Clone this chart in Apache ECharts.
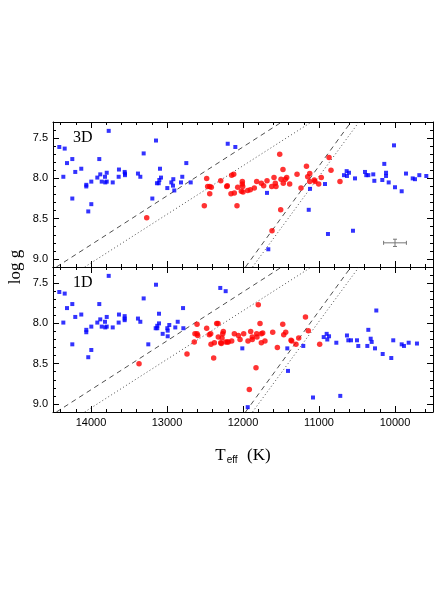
<!DOCTYPE html>
<html>
<head>
<meta charset="utf-8">
<script src="https://cdn.jsdelivr.net/npm/echarts@6/dist/echarts.min.js"></script>
<style>
  html, body { margin: 0; padding: 0; background: #fff; }
  #chart { width: 443px; height: 590px; }
</style>
</head>
<body>
<div id="chart"></div>
<script>
// tick values
const xMajor = [10000, 11000, 12000, 13000, 14000];
const xMinor = [9600, 9800, 10200, 10400, 10600, 10800, 11200, 11400, 11600, 11800,
  12200, 12400, 12600, 12800, 13200, 13400, 13600, 13800, 14200, 14400];
const yMajor = [7.5, 8.0, 8.5, 9.0];
const yMinor = [7.4, 7.6, 7.7, 7.8, 7.9, 8.1, 8.2, 8.3, 8.4, 8.6, 8.7, 8.8, 8.9, 9.1];

// 3D panel [Teff, log g]
const blue3D = [
  [14417,7.61],[14346,7.63],[14364,7.98],[14316,7.81],[14246,7.76],[14246,8.25],[14207,7.92],
  [14128,7.88],[14062,8.08],[14062,8.10],[14036,8.41],[13996,8.04],[13996,8.32],[13917,7.99],
  [13891,7.76],[13878,7.95],[13859,8.04],[13816,7.98],[13812,8.05],[13793,7.93],[13793,8.04],
  [13767,7.41],[13714,8.05],[13632,7.89],[13636,7.98],[13557,7.92],[13553,7.94],[13553,7.96],
  [13382,7.94],[13351,7.98],[13307,7.69],[13193,8.25],[13145,7.53],[13132,8.06],[13109,8.06],
  [13101,8.02],[13092,7.88],[13079,7.99],[12996,8.12],[12943,8.05],[12917,8.01],[12921,8.09],
  [12904,8.15],[12746,7.81],[12799,7.98],[12816,8.05],[12688,8.05],[12201,7.57],[12101,7.61],
  [11684,8.18],[11667,8.88],[11118,8.13],[11135,8.39],[10921,8.07],[10882,8.69],[10671,7.96],
  [10636,7.91],[10632,7.97],[10605,7.93],[10526,8.00],[10553,8.65],[10395,7.92],[10378,7.96],
  [10351,7.96],[10286,7.95],[10272,8.03],[10167,8.02],[10141,7.82],[10118,7.93],[10118,7.97],
  [10083,8.05],[10013,7.59],[10000,8.11],[9912,8.16],[9855,7.94],[9767,8.00],[9737,8.01],
  [9680,7.96],[9588,7.97]
];
const red3D = [
  [13267,8.49],[12509,8.34],[12478,8.00],[12465,8.10],[12438,8.10],[12438,8.19],[12417,8.11],
  [12293,8.03],[12214,8.10],[12207,8.09],[12158,8.19],[12149,7.96],[12122,7.95],[12114,8.18],
  [12079,8.34],[12070,8.11],[12022,8.16],[12009,8.04],[12009,8.07],[12004,8.10],[12000,8.17],
  [11938,8.15],[11904,8.14],[11851,8.12],[11820,8.04],[11759,8.06],[11728,8.09],[11684,8.03],
  [11622,8.10],[11592,7.99],[11575,8.06],[11566,8.10],[11517,7.70],[11504,8.39],[11500,8.01],
  [11474,7.89],[11470,8.06],[11443,8.01],[11425,7.99],[11386,8.07],[11618,8.65],[11289,7.95],
  [11237,8.12],[11165,7.85],[11122,7.94],[11149,7.98],[11122,8.04],[11062,8.02],[11053,8.04],
  [11004,8.07],[10970,7.99],[10868,7.74],[10842,7.90],[10724,8.04]
];

// 1D panel [Teff, log g]
const blue1D = [
  [14417,7.61],[14346,7.63],[14364,7.99],[14316,7.81],[14246,7.76],[14246,8.26],[14207,7.92],
  [14128,7.89],[14062,8.08],[14062,8.11],[14036,8.42],[13996,8.04],[13996,8.33],[13917,7.99],
  [13891,7.76],[13878,7.95],[13859,8.04],[13816,7.98],[13812,8.05],[13793,7.92],[13793,8.04],
  [13767,7.41],[13714,8.05],[13632,7.89],[13636,7.99],[13557,7.91],[13557,7.94],[13557,7.96],
  [13382,7.94],[13351,7.98],[13307,7.69],[13246,8.26],[13145,7.52],[13149,8.06],[13128,8.06],
  [13128,8.03],[13105,8.00],[13105,7.88],[13057,8.13],[12996,8.06],[12991,8.09],[12991,8.16],
  [12970,8.02],[12891,8.05],[12859,7.98],[12789,7.81],[12785,8.06],[12299,7.56],[12228,7.60],
  [12009,8.31],[11938,9.04],[11417,8.31],[11408,8.59],[11207,8.28],[11079,8.92],[10938,8.17],
  [10899,8.13],[10891,8.20],[10868,8.16],[10772,8.24],[10720,8.90],[10632,8.15],[10614,8.21],
  [10579,8.21],[10500,8.21],[10483,8.28],[10364,8.28],[10351,8.08],[10320,8.19],[10307,8.23],
  [10263,8.31],[10246,7.84],[10162,8.38],[10049,8.43],[10023,8.21],[9912,8.26],[9882,8.28],
  [9820,8.24],[9711,8.25]
];
const red1D = [
  [13368,8.50],[12737,8.38],[12605,8.01],[12641,8.23],[12632,8.13],[12605,8.13],[12596,8.15],
  [12478,8.06],[12443,8.14],[12425,8.13],[12421,8.26],[12386,8.43],[12377,8.24],[12346,8.00],
  [12329,8.00],[12325,8.17],[12293,8.24],[12285,8.25],[12276,8.18],[12267,8.13],[12259,8.10],
  [12228,8.23],[12207,8.23],[12193,8.23],[12149,8.22],[12114,8.13],[12061,8.15],[12039,8.20],
  [11991,8.13],[11934,8.22],[11899,8.10],[11878,8.17],[11878,8.20],[11820,8.13],[11816,8.17],
  [11799,7.77],[11776,8.00],[11759,8.24],[11759,8.13],[11741,8.12],[11711,8.22],[11829,8.55],
  [11917,8.82],[11609,8.11],[11548,8.30],[11477,8.01],[11464,8.14],[11438,8.11],[11368,8.21],
  [11359,8.22],[11303,8.26],[11267,8.18],[11178,7.92],[11141,8.09],[10991,8.26]
];

// boundary lines (same in both panels)
const dashA = [[14455, 9.1], [11490, 7.3]];
const dotA = [[14083, 9.1], [11100, 7.3]];
const dashB = [[11967, 9.1], [10579, 7.3]];
const dotB = [[11875, 9.1], [10474, 7.3]];

// typical error bar [Teff, log g, dTeff, dlogg]
const errBar = [[10000, 8.80, 150, 0.045]];

const grids = [
  { left: 53, top: 122, width: 380, height: 145 },
  { left: 53, top: 267, width: 380, height: 145 }
];

const xAxes = [];
const yAxes = [];
grids.forEach((g, gi) => {
  // main axis first: index 4*gi
  const sides = [
    { pos: 'bottom', ticks: xMajor, len: 6, line: true, label: gi === 1 },
    { pos: 'bottom', ticks: xMinor, len: 3, line: false, label: false },
    { pos: 'top', ticks: xMajor, len: 6, line: true, label: false },
    { pos: 'top', ticks: xMinor, len: 3, line: false, label: false }
  ];
  sides.forEach(s => {
    xAxes.push({
      type: 'value', gridIndex: gi, position: s.pos, min: 9500, max: 14500, inverse: true,
      axisLine: { show: s.line, onZero: false, lineStyle: { color: '#000', width: 1 } },
      axisTick: { show: true, inside: true, length: s.len, customValues: s.ticks,
        lineStyle: { color: '#000', width: 1 } },
      axisLabel: { show: s.label, customValues: xMajor, margin: 5, color: '#000',
        fontSize: 11, fontFamily: 'Liberation Sans',
        formatter: v => String(v) },
      splitLine: { show: false }
    });
  });
  const ySides = [
    { pos: 'left', ticks: yMajor, len: 6, line: true, label: true },
    { pos: 'left', ticks: yMinor, len: 3, line: false, label: false },
    { pos: 'right', ticks: yMajor, len: 6, line: true, label: false },
    { pos: 'right', ticks: yMinor, len: 3, line: false, label: false }
  ];
  ySides.forEach(s => {
    yAxes.push({
      type: 'value', gridIndex: gi, position: s.pos, min: 7.3, max: 9.1, inverse: true,
      axisLine: { show: s.line, onZero: false, lineStyle: { color: '#000', width: 1 } },
      axisTick: { show: true, inside: true, length: s.len, customValues: s.ticks,
        lineStyle: { color: '#000', width: 1 } },
      axisLabel: { show: s.label, customValues: yMajor, margin: 5, color: '#000',
        fontSize: 11, fontFamily: 'Liberation Sans',
        formatter: v => v.toFixed(1) },
      splitLine: { show: false }
    });
  });
});

function lineSeries(data, gi, dashed) {
  return {
    type: 'line', xAxisIndex: 4 * gi, yAxisIndex: 4 * gi, data: data,
    symbol: 'none', silent: true, clip: true, z: 1,
    lineStyle: { color: '#222', width: 0.8, type: dashed ? [5, 4] : [1, 2.5] }
  };
}

const series = [];
[[blue3D, red3D], [blue1D, red1D]].forEach((pair, gi) => {
  series.push(lineSeries(dashA, gi, true), lineSeries(dotA, gi, false),
    lineSeries(dashB, gi, true), lineSeries(dotB, gi, false));
  series.push({
    type: 'scatter', xAxisIndex: 4 * gi, yAxisIndex: 4 * gi, data: pair[0],
    symbol: 'rect', symbolSize: 4, itemStyle: { color: '#0000ff' }, z: 3
  });
  series.push({
    type: 'scatter', xAxisIndex: 4 * gi, yAxisIndex: 4 * gi, data: pair[1],
    symbol: 'circle', symbolSize: 5.5, itemStyle: { color: '#ff0000' }, z: 4
  });
});

series.push({
  type: 'custom', xAxisIndex: 0, yAxisIndex: 0, data: errBar, z: 5,
  renderItem: function (params, api) {
    const x = api.value(0), y = api.value(1), dx = api.value(2), dy = api.value(3);
    const c = api.coord([x, y]);
    const l = api.coord([x + dx, y]);
    const r = api.coord([x - dx, y]);
    const t = api.coord([x, y - dy]);
    const b = api.coord([x, y + dy]);
    const st = { stroke: '#777', lineWidth: 1 };
    const seg = (x1, y1, x2, y2) => ({ type: 'line', shape: { x1, y1, x2, y2 }, style: st });
    return {
      type: 'group', children: [
        seg(l[0], c[1], r[0], c[1]),
        seg(l[0], c[1] - 2, l[0], c[1] + 2),
        seg(r[0], c[1] - 2, r[0], c[1] + 2),
        seg(c[0], t[1], c[0], b[1]),
        seg(c[0] - 2, t[1], c[0] + 2, t[1]),
        seg(c[0] - 2, b[1], c[0] + 2, b[1])
      ]
    };
  }
});

const chart = echarts.init(document.getElementById('chart'), null, { renderer: 'canvas' });
chart.setOption({
  animation: false,
  backgroundColor: '#fff',
  grid: grids,
  xAxis: xAxes,
  yAxis: yAxes,
  series: series,
  graphic: [
    { type: 'text', left: 73, top: 130, style: { text: '3D', font: '16px "Liberation Serif"', fill: '#000' } },
    { type: 'text', left: 73, top: 275, style: { text: '1D', font: '16px "Liberation Serif"', fill: '#000' } },
    { type: 'text', x: 16, y: 267, rotation: Math.PI / 2,
      style: { text: 'log g', font: '17px "Liberation Serif"', fill: '#000',
        align: 'center', verticalAlign: 'middle' } },
    { type: 'text', x: 243, y: 456,
      style: { text: '{t|T}{s|eff}{t|  (K)}', align: 'center', verticalAlign: 'middle', fill: '#000',
        rich: {
          t: { fontSize: 17, fontFamily: 'Liberation Serif', lineHeight: 22, fill: '#000' },
          s: { fontSize: 10, fontFamily: 'Liberation Sans', lineHeight: 22, padding: [9, 1, 0, 1], fill: '#000' }
        } } }
  ]
});
</script>
</body>
</html>
